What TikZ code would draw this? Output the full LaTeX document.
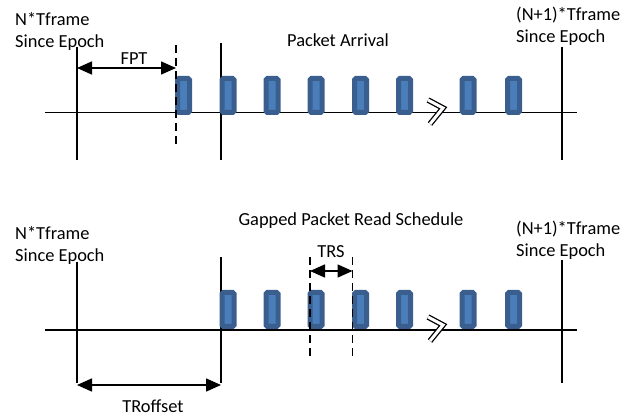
\documentclass[tikz,border=0pt]{standalone}
\usepackage{fontspec}
\setmainfont{Carlito}
\usetikzlibrary{arrows.meta}
\definecolor{pktedge}{HTML}{3A5F8E}
\definecolor{pktfill}{HTML}{4A7EBB}
\tikzset{
  axis/.style={line width=1.6pt},
  gate/.style={line width=1.6pt, dash pattern=on 8pt off 5pt},
  span/.style={line width=1.6pt, {Triangle[length=15pt,width=13pt]}-{Triangle[length=15pt,width=13pt]}},
  packet/.style={draw=pktedge, fill=pktfill, line width=5pt, rounded corners=1.5pt,
    minimum width=12pt, minimum height=34pt, inner sep=0pt},
  lbl/.style={font=\fontsize{18.4}{22}\selectfont, inner sep=0pt},
  brk/.style={line width=1.3pt, double distance=3pt}
}
\begin{document}
\begin{tikzpicture}[x=1pt,y=-1pt]
  \useasboundingbox (0,0) rectangle (641,417);
  \def\ya{112.7}
  \def\yb{330}
  % top row: packet arrival
  \draw[axis] (45,\ya) -- (577,\ya);
  \draw[axis] (77,47) -- (77,160);
  \draw[axis] (221,43) -- (221,160);
  \draw[axis] (562,47) -- (562,160);
  \foreach \x [count=\i] in {183.5,228,272,316,360.5,404.5,468,513.5} {
    \node[packet] (a\i) at (\x,95.5) {};
  }
  \draw[gate] (176,45) -- (176,146);
  \coordinate (fptL) at (77,68);
  \coordinate (fptR) at (176,68);
  \draw[span] (fptL) -- (fptR);
  \node[lbl, anchor=base] (fpt) at (134,65) {FPT};
  \draw[brk] (428,100) -- (443,108) -- (430,124);
  \node[lbl, anchor=base] (arr) at (338,47) {Packet Arrival};
  \node[lbl, anchor=base west, align=left] (nA) at (15,48) {N*Tframe\\Since Epoch};
  \node[lbl, anchor=base west, align=left] (mA) at (516,43) {(N+1)*Tframe\\Since Epoch};
  % bottom row: gapped read schedule
  \draw[axis] (45,\yb) -- (577,\yb);
  \draw[axis] (77,262) -- (77,383);
  \draw[axis] (221,257) -- (221,383);
  \draw[axis] (562,260) -- (562,383);
  \foreach \x [count=\i] in {228,272,316,360.5,404.5,468,513.5} {
    \node[packet] (b\i) at (\x,309.5) {};
  }
  \draw[gate] (310,257) -- (310,357);
  \draw[gate] (352.5,257) -- (352.5,357);
  \coordinate (trsL) at (310,271);
  \coordinate (trsR) at (352.5,271);
  \draw[span] (trsL) -- (trsR);
  \node[lbl, anchor=base] (trs) at (331,258) {TRS};
  \coordinate (troL) at (77,385);
  \coordinate (troR) at (221,385);
  \draw[span] (troL) -- (troR);
  \node[lbl, anchor=base] (tro) at (153,413) {TRoffset};
  \draw[brk] (428,317) -- (443,325) -- (430,341);
  \node[lbl, anchor=base] (sch) at (351,226) {Gapped Packet Read Schedule};
  \node[lbl, anchor=base west, align=left] (nB) at (15,262) {N*Tframe\\Since Epoch};
  \node[lbl, anchor=base west, align=left] (mB) at (516,257) {(N+1)*Tframe\\Since Epoch};
\end{tikzpicture}
\end{document}
